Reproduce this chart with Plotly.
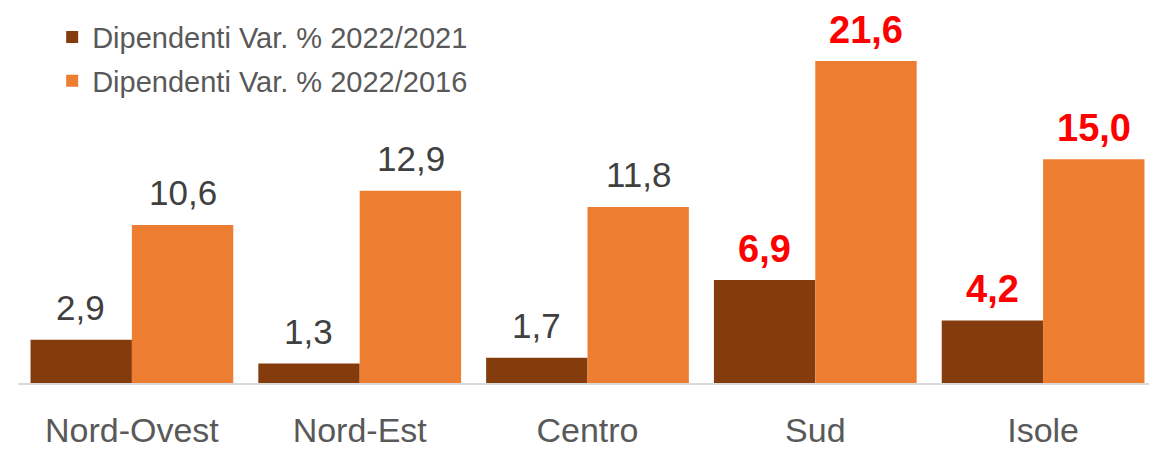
import plotly.graph_objects as go

categories = ["Nord-Ovest", "Nord-Est", "Centro", "Sud", "Isole"]
var_2021 = [2.9, 1.3, 1.7, 6.9, 4.2]
var_2016 = [10.6, 12.9, 11.8, 21.6, 15.0]
labels_2021 = ["2,9", "1,3", "1,7", "6,9", "4,2"]
labels_2016 = ["10,6", "12,9", "11,8", "21,6", "15,0"]
highlight = [False, False, False, True, True]
series_names = ["Dipendenti Var. % 2022/2021", "Dipendenti Var. % 2022/2016"]

DARK = "#843C0C"
ORANGE = "#ED7D31"
FONT = "Liberation Sans, Arial, sans-serif"

fig = go.Figure()
fig.add_trace(go.Bar(x=categories, y=var_2021, name=series_names[0], legendgroup="a",
                     marker=dict(color=DARK, line=dict(width=0))))
fig.add_trace(go.Bar(x=categories, y=var_2016, name=series_names[1], legendgroup="b",
                     marker=dict(color=ORANGE, line=dict(width=0))))

annotations = []
for offset_idx, (vals, labs) in enumerate([(var_2021, labels_2021), (var_2016, labels_2016)]):
    for i, (v, lab) in enumerate(zip(vals, labs)):
        hl = highlight[i]
        annotations.append(dict(
            x=categories[i], y=v, xref="x", yref="y",
            text=f"<b>{lab}</b>" if hl else lab,
            showarrow=False, yanchor="bottom",
            xshift=(-51 if offset_idx == 0 else 51),
            yshift=8 if hl else 11,
            font=dict(family=FONT, size=38 if hl else 35,
                      color="#FF0000" if hl else "#404040"),
        ))

fig.update_layout(
    width=1149, height=441,
    margin=dict(l=9.5, r=0, t=0, b=58),
    paper_bgcolor="white", plot_bgcolor="white",
    barmode="group", bargap=0.11, bargroupgap=0,
    font=dict(family=FONT, color="#595959"),
    showlegend=True,
    legend=dict(x=0.03, y=0.99, xanchor="left", yanchor="top",
                font=dict(family=FONT, size=29, color="#595959"),
                bgcolor="rgba(0,0,0,0)", itemwidth=30, traceorder="grouped",
                tracegroupgap=3),
    annotations=annotations,
    xaxis=dict(showline=True, linecolor="#D9D9D9", linewidth=2,
               tickfont=dict(family=FONT, size=34, color="#595959"),
               ticklabelstandoff=16,
               ticks="", showgrid=False),
    yaxis=dict(range=[0, 25.15], visible=False, showgrid=False, zeroline=False),
)

fig.write_html("out.html")
